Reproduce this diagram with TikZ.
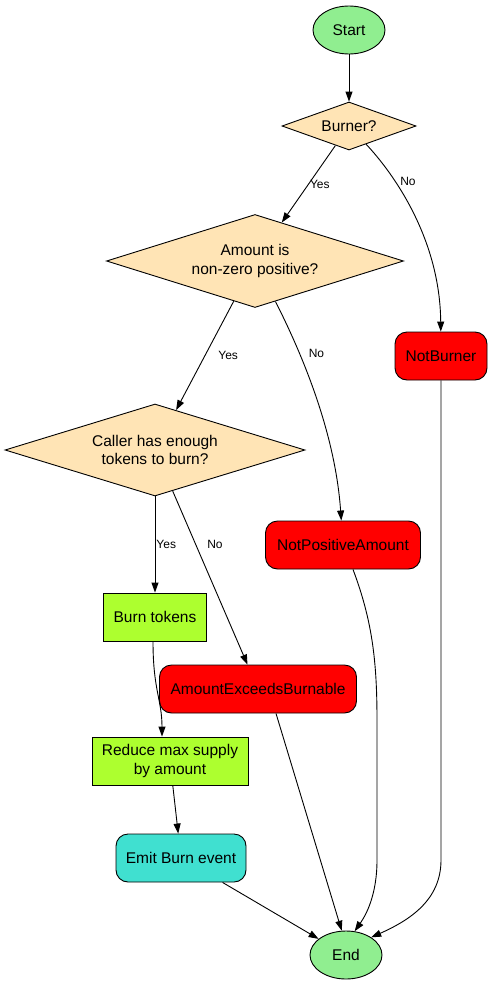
\documentclass[tikz,border=0pt]{standalone}
\usepackage{fontspec}
\setmainfont{Liberation Sans}
\usetikzlibrary{arrows.meta,positioning,shapes.geometric}
\definecolor{termgreen}{HTML}{90EE90}
\definecolor{askfill}{HTML}{FFE4B5}
\definecolor{errred}{HTML}{FF0000}
\definecolor{actgreen}{HTML}{ADFF2F}
\definecolor{emitcyan}{HTML}{40E0D0}

\begin{document}
\begin{tikzpicture}[x=1pt, y=-1pt, every node/.style={font=\fontsize{15.5}{18.6}\selectfont, line width=0.9pt}, term/.style={ellipse,draw,fill=termgreen,minimum width=72pt,minimum height=48pt,inner sep=0pt}, ask/.style={diamond,draw,fill=askfill,align=center,inner sep=0pt}, err/.style={draw,rounded corners=12pt,fill=errred,minimum height=48pt,inner sep=0pt}, act/.style={draw,fill=actgreen,align=center,minimum height=48pt,inner sep=0pt}, emitbox/.style={draw,rounded corners=12pt,fill=emitcyan,minimum height=48pt,inner sep=0pt}, lbl/.style={font=\fontsize{12}{14}\selectfont,inner sep=1pt}, arr/.style={-{Triangle[length=10pt,width=7pt]},line width=0.9pt}]
\useasboundingbox (0,0) rectangle (492,985);
% nodes
\node[term] (start) at (349,30) {Start};
\node[ask,aspect=2.8,minimum width=134pt,minimum height=48pt] (burner) at (349,126) {Burner?};
\node[ask,aspect=3.2,minimum width=297pt,minimum height=93pt] (amount) at (255,261) {Amount is\\non-zero positive?};
\node[err,minimum width=92pt] (notburner) at (441,356) {NotBurner};
\node[ask,aspect=3.25,minimum width=300pt,minimum height=92pt] (caller) at (155,450) {Caller has enough\\tokens to burn?};
\node[err,minimum width=155pt] (notpos) at (343,545) {NotPositiveAmount};
\node[act,minimum width=103pt] (burn) at (155,617) {Burn tokens};
\node[err,minimum width=197pt] (exceeds) at (258,689) {AmountExceedsBurnable};
\node[act,minimum width=156pt] (reduce) at (170,761) {Reduce max supply\\by amount};
\node[emitbox,minimum width=130pt] (emit) at (181,858) {Emit Burn event};
\node[term] (end) at (346,955) {End};
% edges
\draw[arr] (start) -- (burner);
\draw[arr] (burner) -- node[lbl,right] {Yes} (amount);
\draw[arr] (burner) .. controls (395,175) and (440,240) .. node[lbl,pos=0.3,right=4pt] {No} (notburner);
\draw[arr] (amount) -- node[lbl,right=12pt] {Yes} (caller);
\draw[arr] (amount) .. controls (300,350) and (335,430) .. node[lbl,pos=0.3,right=8pt] {No} (notpos);
\draw[arr] (caller) -- node[lbl,right] {Yes} (burn);
\draw[arr] (caller) -- node[lbl,pos=0.31,right=10pt] {No} (exceeds);
\draw[arr] ([xshift=-2pt]burn.south) .. controls (153,690) and (162,700) .. ([xshift=-8pt]reduce.north);
\draw[arr] (reduce) -- (emit);
\draw[arr] (emit) -- (end);
\draw[arr] ([xshift=18pt]exceeds.south) -- (end.100);
\draw[arr] ([xshift=10pt]notpos.south) .. controls (372,620) and (377,660) .. (377,720) -- (377,860) .. controls (377,895) and (366,915) .. (end.70);
\draw[arr] (notburner.south) -- (441,860) .. controls (441,900) and (410,920) .. (end.35);
\end{tikzpicture}
\end{document}
